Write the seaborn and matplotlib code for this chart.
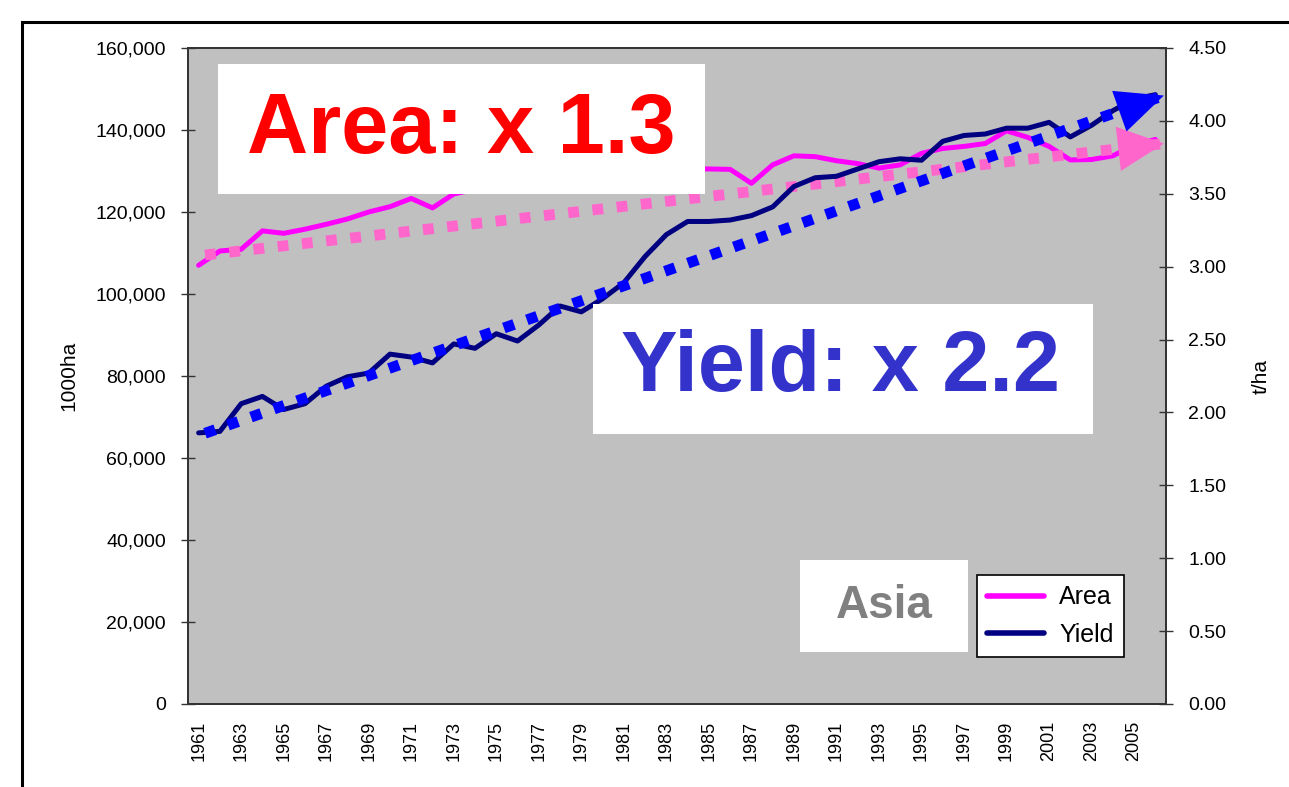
import seaborn as sns
import pandas as pd
import matplotlib.pyplot as plt
from matplotlib.patches import Rectangle
from matplotlib.lines import Line2D
from matplotlib.ticker import FuncFormatter, MultipleLocator, FixedLocator

years = list(range(1961, 2007))
area = [107000, 110500, 110900, 115400, 114800, 115800, 117000, 118300, 120000, 121300,
        123300, 121000, 124400, 125500, 127500, 128000, 128500, 130500, 129500, 130500,
        131000, 130000, 131500, 130500, 130500, 130400, 127000, 131500, 133700, 133500,
        132500, 131800, 130700, 131500, 134300, 135500, 136000, 136700, 139800, 138200,
        136000, 132700, 132800, 133700, 136300, 137700]
yield_t = [1.86, 1.87, 2.06, 2.11, 2.02, 2.06, 2.18, 2.245, 2.27, 2.40,
           2.38, 2.34, 2.47, 2.44, 2.54, 2.49, 2.60, 2.73, 2.69, 2.78,
           2.89, 3.07, 3.22, 3.31, 3.31, 3.32, 3.35, 3.41, 3.55, 3.61,
           3.62, 3.67, 3.72, 3.74, 3.73, 3.86, 3.90, 3.91, 3.95, 3.95,
           3.99, 3.89, 3.97, 4.07, 4.15, 4.18]

# trend arrows (start, end)
trend_years = [1961.3, 2006.4]
area_trend = [109500, 136700]
yield_trend = [1.857, 4.174]

df = pd.DataFrame({'year': years, 'Area': area, 'Yield': yield_t})

sns.set_style('white')
plt.rcParams['font.family'] = ['Liberation Sans', 'DejaVu Sans']
plt.rcParams['text.color'] = 'black'
plt.rcParams['axes.labelcolor'] = 'black'
plt.rcParams['xtick.labelcolor'] = 'black'
plt.rcParams['ytick.labelcolor'] = 'black'

fig = plt.figure(figsize=(12.89, 7.87), dpi=100)
ax = fig.add_axes([188 / 1289, 1 - 704 / 787, 978 / 1289, 656 / 787])
ax.set_facecolor('#C0C0C0')
ax2 = ax.twinx()

sns.lineplot(data=df, x='year', y='Area', ax=ax, color='#FF00FF', linewidth=3.6)
sns.lineplot(data=df, x='year', y='Yield', ax=ax2, color='#000080', linewidth=3.6)

# dotted trend lines with arrow heads
ax.plot(trend_years, area_trend, color='#FF66CC', linewidth=7.8, linestyle=(0, (1, 1.25)), zorder=5)
ax.annotate('', xy=(trend_years[1], area_trend[1]), xytext=(trend_years[0], area_trend[0]),
            arrowprops=dict(arrowstyle='-|>,head_length=3.3,head_width=1.6', mutation_scale=10,
                            color='#FF66CC', lw=0, shrinkA=0, shrinkB=0), zorder=6)
ax2.plot(trend_years, yield_trend, color='#0000FF', linewidth=7.8, linestyle=(0, (1, 1.25)), zorder=5)
ax2.annotate('', xy=(trend_years[1], yield_trend[1]), xytext=(trend_years[0], yield_trend[0]),
             arrowprops=dict(arrowstyle='-|>,head_length=3.4,head_width=1.55', mutation_scale=10,
                             color='#0000FF', lw=0, shrinkA=0, shrinkB=0), zorder=6)

ax.set_xlim(1960.5, 2006.5)
ax.set_ylim(0, 160000)
ax2.set_ylim(0, 4.5)

ax.yaxis.set_major_locator(MultipleLocator(20000))
ax.yaxis.set_major_formatter(FuncFormatter(lambda v, p: f'{int(v):,}'))
ax2.yaxis.set_major_locator(MultipleLocator(0.5))
ax2.yaxis.set_major_formatter(FuncFormatter(lambda v, p: f'{v:.2f}'))

ax.xaxis.set_major_locator(FixedLocator(years[::2]))
ax.xaxis.set_minor_locator(FixedLocator([y - 0.5 for y in years] + [2006.5]))
ax.tick_params(axis='x', which='major', length=0, labelsize=13, labelrotation=90, pad=12)
ax.tick_params(axis='x', which='minor', length=6, direction='in', width=1, color='#333333')
ax.tick_params(axis='y', direction='inout', length=10, width=1, labelsize=14, pad=11, color='#333333')
ax2.tick_params(axis='y', direction='inout', length=10, width=1, labelsize=14, pad=11, color='#333333')

ax.set_xlabel('')
ax.set_ylabel('1000ha', fontsize=15, labelpad=12)
ax2.set_ylabel('t/ha', fontsize=15, labelpad=18)
ax2.yaxis.label.set_rotation(90)

for a in (ax, ax2):
    for s in a.spines.values():
        s.set_color('#333333')
        s.set_linewidth(1.3)
    a.grid(False)

# annotation boxes
boxes = [
    ((0.0307, 0.7774), 0.4979, 0.1982),
    ((0.4141, 0.4116), 0.5113, 0.1982),
    ((0.6258, 0.0793), 0.1717, 0.1402),
]
for (x0, y0), w, h in boxes:
    ax2.add_patch(Rectangle((x0, y0), w, h, transform=ax2.transAxes, facecolor='white',
                            edgecolor='none', zorder=8))
ax2.text(0.2791, 0.8735, 'Area: x 1.3', transform=ax2.transAxes, ha='center', va='center',
         fontsize=61, fontweight='bold', color='#FF0000', zorder=9)
ax2.text(0.6667, 0.5107, 'Yield: x 2.2', transform=ax2.transAxes, ha='center', va='center',
         fontsize=61, fontweight='bold', color='#3333CC', zorder=9)
ax2.text(0.7117, 0.1494, 'Asia', transform=ax2.transAxes, ha='center', va='center',
         fontsize=33, fontweight='bold', color='#808080', zorder=9)

handles = [Line2D([], [], color='#FF00FF', linewidth=4), Line2D([], [], color='#000080', linewidth=4)]
leg = ax2.legend(handles, ['Area', 'Yield'], loc='lower left', bbox_to_anchor=(0.8067, 0.0716),
                 borderaxespad=0, fontsize=18, frameon=True, fancybox=False, framealpha=1,
                 edgecolor='black', handlelength=2.3, handletextpad=0.6, borderpad=0.4,
                 labelspacing=0.55)
leg.get_frame().set_linewidth(1.2)
leg.set_zorder(10)

# outer frame
fig.patches.append(Rectangle((22 / 1289, -0.1), 1.2, 1.086 - 11 / 787, transform=fig.transFigure,
                             fill=False, edgecolor='black', linewidth=2.2))

fig.savefig('out.png', dpi=100)
